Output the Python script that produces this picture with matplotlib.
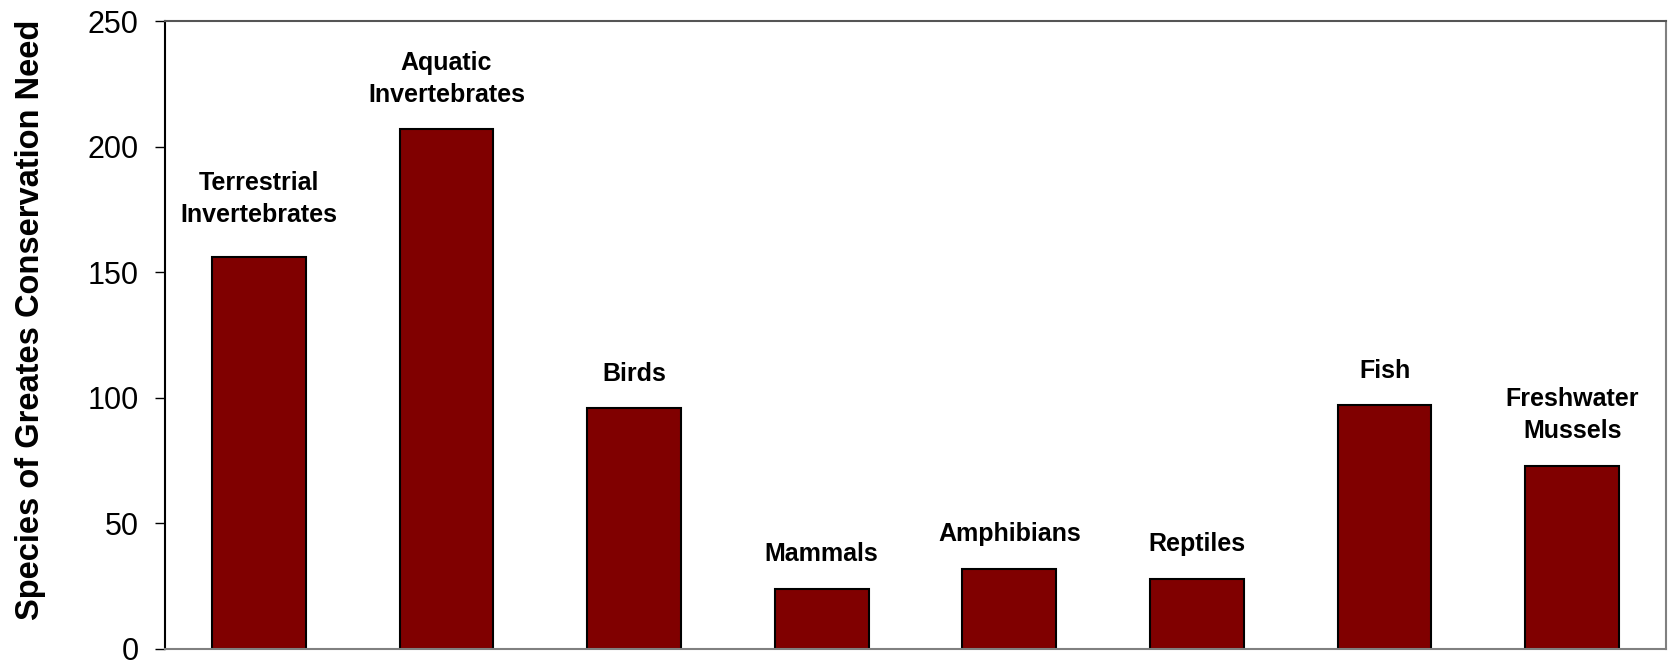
import matplotlib
matplotlib.use('Agg')
import matplotlib.pyplot as plt

categories = ['Terrestrial\nInvertebrates', 'Aquatic\nInvertebrates', 'Birds', 'Mammals',
              'Amphibians', 'Reptiles', 'Fish', 'Freshwater\nMussels']
counts = [156, 207, 96, 24, 32, 28, 97, 73]
yticks = [0, 50, 100, 150, 200, 250]

plt.rcParams['font.family'] = ['Liberation Sans', 'DejaVu Sans']

fig = plt.figure(figsize=(16.7, 6.61), dpi=100)
ax = fig.add_axes([0.0988, 0.0182, 0.8988, 0.950])

x = range(len(categories))
ax.bar(x, counts, width=0.5, color='#800000', edgecolor='black', linewidth=1.5)

# the first label sits a little higher in the original
extra = {0: 6}
for i, (v, name) in enumerate(zip(counts, categories)):
    ax.annotate(name, (i, v), xytext=(0, 16 + extra.get(i, 0)), textcoords='offset points',
                ha='center', va='bottom', fontsize=18, fontweight='bold',
                linespacing=1.42)

ax.set_xlim(-0.5, len(categories) - 0.5)
ax.set_ylim(0, 250)
ax.set_yticks(yticks)
ax.set_xticks([])
ax.tick_params(axis='y', direction='out', length=7, width=1, labelsize=22, pad=12)
ax.set_ylabel('Species of Greates Conservation Need', fontsize=23.5, fontweight='bold')
ax.yaxis.set_label_coords(-0.079, 0.524)

ax.spines['left'].set_color('black')
ax.spines['top'].set_color('#555555')
ax.spines['right'].set_color('#808080')
ax.spines['bottom'].set_color('#808080')
for s in ax.spines.values():
    s.set_linewidth(1.5)

plt.savefig('out.png', dpi=100)
